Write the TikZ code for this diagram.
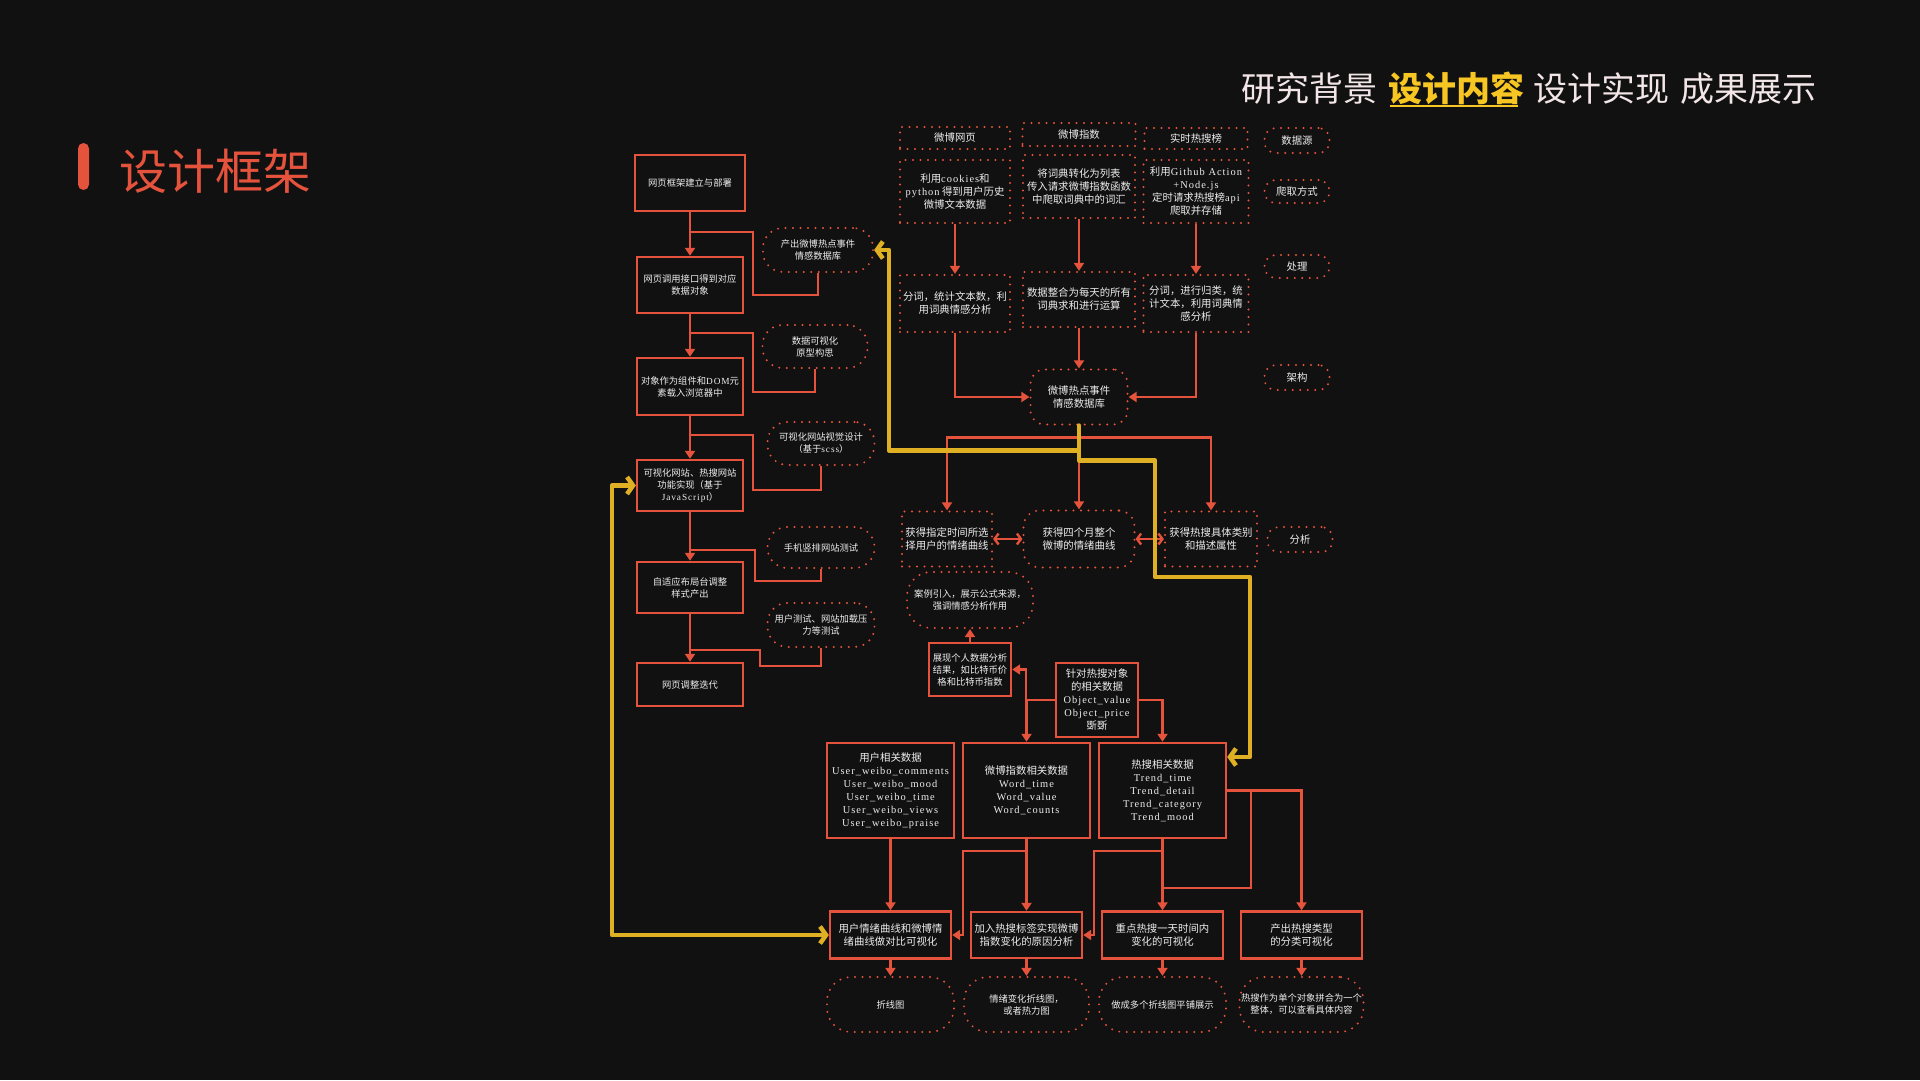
\documentclass[tikz,border=0pt]{standalone}
\usepackage{fontspec}
\setmainfont{Noto Sans CJK SC}
\newfontfamily\lat{Liberation Serif}[LetterSpace=10]
\usetikzlibrary{arrows.meta}
\definecolor{bg}{HTML}{111111}
\definecolor{hot}{HTML}{E5533D}
\definecolor{gold}{HTML}{E0B024}
\definecolor{amber}{HTML}{F7C623}
\definecolor{ink}{HTML}{EEEEEE}
\definecolor{pale}{HTML}{F3E6E8}
\newcommand{\sm}{\fontsize{9.3}{12}\selectfont}
\newcommand{\md}{\fontsize{10.4}{13}\selectfont}

\begin{document}
\begin{tikzpicture}[x=1pt, y=-1pt,
  box/.style={draw=hot, line width=2.4pt, fill=bg, text=ink, align=center, inner sep=1pt},
  dots/.style={draw=hot, line width=2.2pt, line cap=round, dash pattern=on 0pt off 7.5pt, fill=bg, text=ink, align=center, inner sep=1pt},
  pill/.style={dots, rounded corners=20pt},
  tag/.style={dots, rounded corners=11pt, font=\md},
  link/.style={draw=hot, line width=2.4pt, -{Triangle[length=8pt,width=10pt]}},
  wire/.style={draw=hot, line width=2.4pt},
  both/.style={draw=hot, line width=2.4pt, {Straight Barb[length=4pt,width=11pt]}-{Straight Barb[length=4pt,width=11pt]}},
  hl/.style={draw=gold, line width=4.5pt, line join=round, line cap=round, -{Straight Barb[length=6pt,width=17pt]}},
  nav/.style={anchor=base, text=pale, font=\fontsize{34}{34}\selectfont, inner sep=0pt},
]

\useasboundingbox (0,0) rectangle (1920,1080);
\fill[bg] (0,0) rectangle (1920,1080);

\fill[hot, rounded corners=5.5pt] (78,143) rectangle (89,190);
\node[anchor=base west, text=hot, font=\fontsize{48}{48}\selectfont, inner sep=0pt] (title) at (119,189) {设计框架};

\node[nav] (n1) at (1309,101) {研究背景};
\node[nav, text=amber, font=\fontsize{34}{34}\selectfont\bfseries] (n2) at (1456,101) {设计内容};
\node[nav] (n3) at (1601.5,101) {设计实现};
\node[nav] (n4) at (1748,101) {成果展示};
\draw[amber, line width=2.4pt] (n2.base west) ++(2,5) -- ++(128,0);

\node[box, font=\sm, minimum width=110pt, minimum height=56pt] (b1) at (690,183) {网页框架建立与部署};
\node[box, font=\sm, minimum width=106pt, minimum height=56pt] (b2) at (690,285) {网页调用接口得到对应\\数据对象};
\node[box, font=\sm, minimum width=106pt, minimum height=57pt] (b3) at (690,386.5) {对象作为组件和{\lat DOM}元\\素载入浏览器中};
\node[box, font=\sm, minimum width=106pt, minimum height=51pt] (b4) at (690,485.5) {可视化网站、热搜网站\\功能实现（基于\\{\lat JavaScript}）};
\node[box, font=\sm, minimum width=106pt, minimum height=51pt] (b5) at (690,587.5) {自适应布局台调整\\样式产出};
\node[box, font=\sm, minimum width=106pt, minimum height=43pt] (b6) at (690,684.5) {网页调整迭代};

\node[pill, font=\sm, minimum width=110pt, minimum height=44pt] (s1) at (818,250) {产出微博热点事件\\情感数据库};
\node[pill, font=\sm, minimum width=105pt, minimum height=43pt] (s2) at (815,346.5) {数据可视化\\原型构思};
\node[pill, font=\sm, minimum width=107pt, minimum height=43pt] (s3) at (821,443.5) {可视化网站视觉设计\\（基于{\lat scss}）};
\node[pill, font=\sm, minimum width=107pt, minimum height=41pt] (s4) at (821,547.5) {手机竖排网站测试};
\node[pill, font=\sm, minimum width=107pt, minimum height=44pt] (s5) at (821,625) {用户测试、网站加载压\\力等测试};

\draw[link] (b1.south) -- (b2.north);
\draw[link] (b2.south) -- (b3.north);
\draw[link] (b3.south) -- (b4.north);
\draw[link] (b4.south) -- (b5.north);
\draw[link] (b5.south) -- (b6.north);
\draw[wire] (s1.south) |- (753,295) |- (b1.south |- 0,232);
\draw[wire] (s2.south) |- (753,392) |- (b2.south |- 0,333);
\draw[wire] (s3.south) |- (753,490) |- (b3.south |- 0,435);
\draw[wire] (s4.south) |- (755,581) |- (b4.south |- 0,550);
\draw[wire] (s5.south) |- (760,666) |- (b5.south |- 0,650);

\node[dots, font=\md, minimum width=110pt, minimum height=22pt] (t1) at (955,138) {微博网页};
\node[dots, font=\md, minimum width=113pt, minimum height=23pt] (t2) at (1079,134.5) {微博指数};
\node[dots, font=\md, minimum width=103pt, minimum height=21pt] (t3) at (1196,138.5) {实时热搜榜};
\node[dots, font=\md, minimum width=110pt, minimum height=63pt] (c1) at (955,191.5) {利用{\lat cookies}和\\{\lat python} 得到用户历史\\微博文本数据};
\node[dots, font=\md, minimum width=112pt, minimum height=63pt] (c2) at (1079,186.5) {将词典转化为列表\\传入请求微博指数函数\\中爬取词典中的词汇};
\node[dots, font=\md, minimum width=105pt, minimum height=63pt] (c3) at (1196,191.5) {利用{\lat Github Action}\\{\lat +Node.js}\\定时请求热搜榜{\lat api}\\爬取并存储};
\node[dots, font=\md, minimum width=110pt, minimum height=57pt] (p1) at (955,303.5) {分词，统计文本数，利\\用词典情感分析};
\node[dots, font=\md, minimum width=112pt, minimum height=55pt] (p2) at (1079,299.5) {数据整合为每天的所有\\词典求和进行运算};
\node[dots, font=\md, minimum width=105pt, minimum height=57pt] (p3) at (1196,303.5) {分词，进行归类，统\\计文本，利用词典情\\感分析};
\node[dots, font=\md, rounded corners=14pt, minimum width=97pt, minimum height=55pt] (db) at (1079,397) {微博热点事件\\情感数据库};

\node[tag, minimum width=65pt, minimum height=25pt] (l1) at (1297,140.5) {数据源};
\node[tag, minimum width=65pt, minimum height=23pt] (l2) at (1297,191.5) {爬取方式};
\node[tag, minimum width=65pt, minimum height=23pt] (l3) at (1297,266.5) {处理};
\node[tag, minimum width=65pt, minimum height=25pt] (l4) at (1297,377.5) {架构};
\node[tag, minimum width=65pt, minimum height=25pt] (l5) at (1300,539.5) {分析};

\draw[link] (c1.south) -- (p1.north);
\draw[link] (c2.south) -- (p2.north);
\draw[link] (c3.south) -- (p3.north);
\draw[link] (p1.south) |- (db.west);
\draw[link] (p2.south) -- (db.north);
\draw[link] (p3.south) |- (db.east);

\node[dots, font=\md, minimum width=90pt, minimum height=55pt] (a1) at (947,539) {获得指定时间所选\\择用户的情绪曲线};
\node[dots, font=\md, rounded corners=16pt, minimum width=111pt, minimum height=57pt] (a2) at (1079,539) {获得四个月整个\\微博的情绪曲线};
\node[dots, font=\md, minimum width=92pt, minimum height=55pt] (a3) at (1211,539) {获得热搜具体类别\\和描述属性};

\draw[link] (db.south) -- (a2.north);
\draw[link] (db.south) ++(0,12) -| (a1.north);
\draw[link] (db.south) ++(0,12) -| (a3.north);
\draw[both] (a1.east) -- (a2.west);
\draw[both] (a2.east) -- (a3.west);

\node[pill, font=\sm, rounded corners=24pt, minimum width=126pt, minimum height=56pt] (e1) at (970,600) {案例引入，展示公式来源，\\强调情感分析作用};
\node[box, font=\sm, minimum width=82pt, minimum height=53pt] (o1) at (970,669.5) {展现个人数据分析\\结果，如比特币价\\格和比特币指数};
\node[box, font=\md, minimum width=82pt, minimum height=74pt] (o2) at (1097,700) {针对热搜对象\\的相关数据\\{\lat Object\_value}\\{\lat Object\_price}\\斲斲};

\node[box, font=\md, minimum width=127pt, minimum height=95pt] (d1) at (890.5,790.5) {用户相关数据\\{\lat User\_weibo\_comments}\\{\lat User\_weibo\_mood}\\{\lat User\_weibo\_time}\\{\lat User\_weibo\_views}\\{\lat User\_weibo\_praise}};
\node[box, font=\md, minimum width=127pt, minimum height=95pt] (d2) at (1026.5,790.5) {微博指数相关数据\\{\lat Word\_time}\\{\lat Word\_value}\\{\lat Word\_counts}};
\node[box, font=\md, minimum width=127pt, minimum height=95pt] (d3) at (1162.5,790.5) {热搜相关数据\\{\lat Trend\_time}\\{\lat Trend\_detail}\\{\lat Trend\_category}\\{\lat Trend\_mood}};

\draw[link] (o1.north) -- (e1.south);
\draw[link] (o2.west) -- ++(-29,0) |- (o1.east);
\draw[link] (o2.west) -| (d2.north);
\draw[link] (o2.east) -| (d3.north);

\node[box, font=\md, minimum width=121pt, minimum height=47pt] (r1) at (890.5,935) {用户情绪曲线和微博情\\绪曲线做对比可视化};
\node[box, font=\md, minimum width=111pt, minimum height=46pt] (r2) at (1026.5,935) {加入热搜标签实现微博\\指数变化的原因分析};
\node[box, font=\md, minimum width=121pt, minimum height=47pt] (r3) at (1162.5,935) {重点热搜一天时间内\\变化的可视化};
\node[box, font=\md, minimum width=121pt, minimum height=47pt] (r4) at (1301.5,935) {产出热搜类型\\的分类可视化};

\node[pill, font=\sm, rounded corners=24pt, minimum width=127pt, minimum height=55pt] (f1) at (890.5,1004.5) {折线图};
\node[pill, font=\sm, rounded corners=24pt, minimum width=125pt, minimum height=55pt] (f2) at (1026.5,1004.5) {情绪变化折线图，\\或者热力图};
\node[pill, font=\sm, rounded corners=24pt, minimum width=127pt, minimum height=55pt] (f3) at (1162.5,1004.5) {做成多个折线图平铺展示};
\node[pill, font=\sm, rounded corners=24pt, minimum width=124pt, minimum height=55pt] (f4) at (1301.5,1004.5) {热搜作为单个对象拼合为一个\\整体，可以查看具体内容};

\draw[link] (d1.south) -- (r1.north);
\draw[link] (d2.south) -- (r2.north);
\draw[link] (d3.south) -- (r3.north);
\draw[link] (d2.south) ++(0,12) -| (963,935) -- (r1.east);
\draw[link] (d3.south) ++(0,12) -| (1094,935) -- (r2.east);
\draw[link] (d3.east) -| (r4.north);
\draw[wire] (d3.east) ++(24,0) |- ([yshift=-49pt]d3.south);
\draw[link] (r1.south) -- (f1.north);
\draw[link] (r2.south) -- (f2.north);
\draw[link] (r3.south) -- (f3.north);
\draw[link] (r4.south) -- (f4.north);

\draw[hl] (db.south) -- ++(0,25) -| (889,250) -- (s1.east);
\draw[hl] (db.south) ++(0,25) -- ++(0,10) -| (1155,577) -| (1250,757) -- ([yshift=33.5pt]d3.east);
\draw[hl, {Straight Barb[length=6pt,width=17pt]}-{Straight Barb[length=6pt,width=17pt]}] (b4.west) -| (612,935) -- (r1.west);

\end{tikzpicture}
\end{document}
